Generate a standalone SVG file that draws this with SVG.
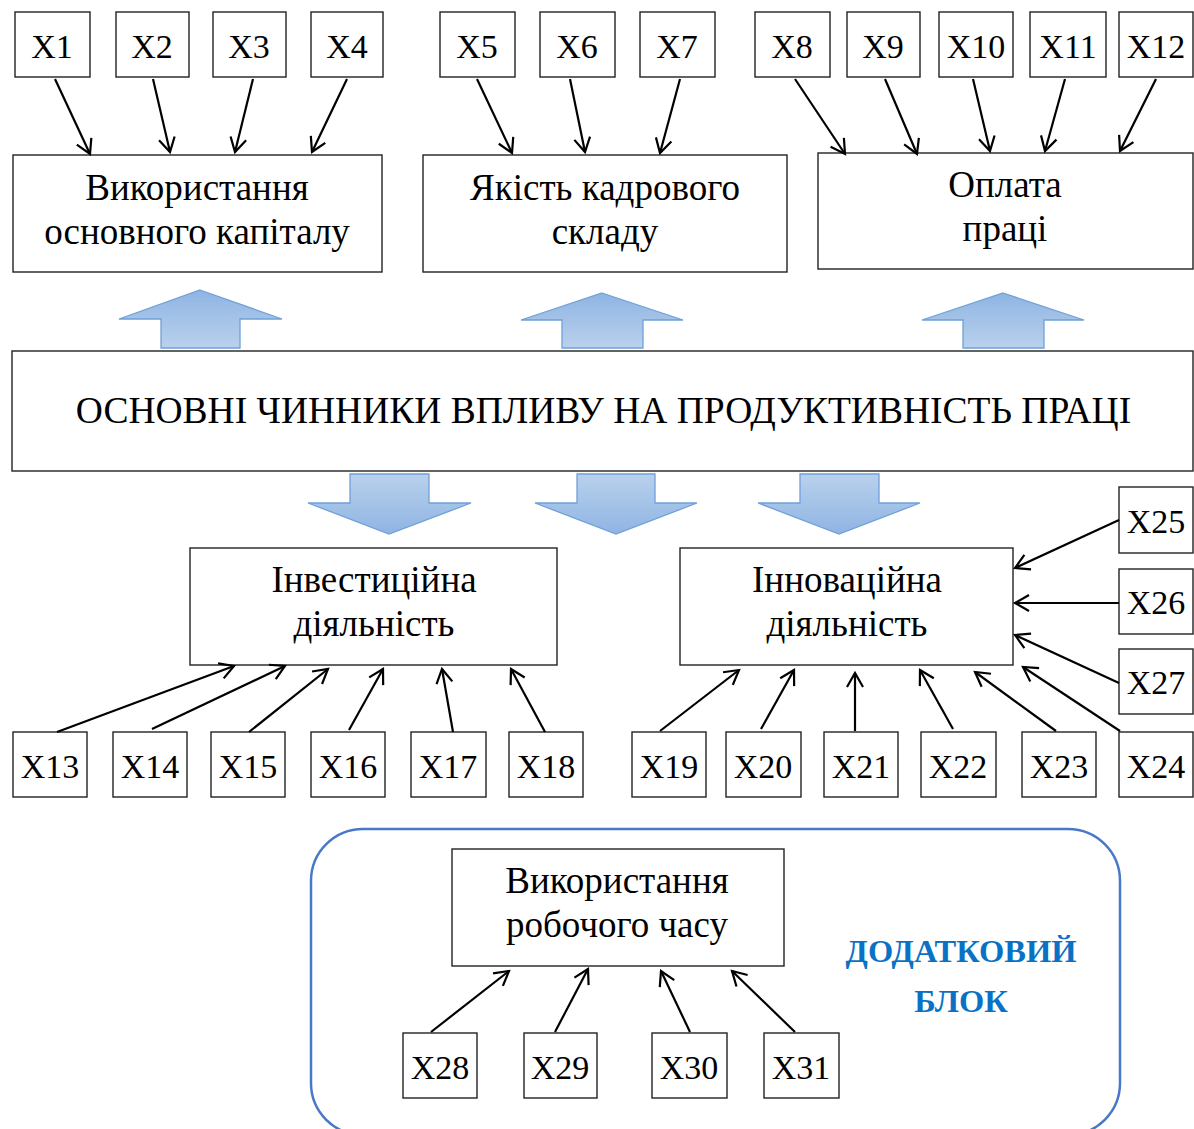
<svg xmlns="http://www.w3.org/2000/svg" width="1194" height="1129" viewBox="0 0 1194 1129" font-family="Liberation Serif, Times New Roman, serif">
<style>
.box{fill:#fff;stroke:#222;stroke-width:1.4}
.t{font-family:'Liberation Serif','Times New Roman',serif;font-size:37px;fill:#000;text-anchor:middle}
.x{font-family:'Liberation Serif','Times New Roman',serif;font-size:34px;fill:#000;text-anchor:middle}
.c{stroke:#000;stroke-width:2.2;fill:none;marker-end:url(#ah)}
.blk{fill:url(#gu);stroke:#6fa0d8;stroke-width:1.3}
.blkd{fill:url(#gd);stroke:#6fa0d8;stroke-width:1.3}
</style>
<defs>
<marker id="ah" markerUnits="userSpaceOnUse" markerWidth="20" markerHeight="20" viewBox="0 0 20 20" refX="17" refY="10" orient="auto">
<path d="M3,2 L17,10 L3,18" fill="none" stroke="#000" stroke-width="2.2"/>
</marker>
<linearGradient id="gu" x1="0" y1="0" x2="0" y2="1">
<stop offset="0" stop-color="#8fb4e3"/><stop offset="1" stop-color="#b9d1ec"/>
</linearGradient>
<linearGradient id="gd" x1="0" y1="0" x2="0" y2="1">
<stop offset="0" stop-color="#b9d1ec"/><stop offset="1" stop-color="#8fb4e3"/>
</linearGradient>
</defs>
<rect width="1194" height="1129" fill="#fff"/>

<g id="extra-block">
<rect x="311" y="829" width="809" height="306" rx="52" ry="52" fill="none" stroke="#4a78c8" stroke-width="2.5"/>
<text x="961" y="962" font-family="Liberation Serif, serif" font-weight="bold" font-size="32.5" fill="#0a72c4" text-anchor="middle">ДОДАТКОВИЙ</text>
<text x="961" y="1012" font-family="Liberation Serif, serif" font-weight="bold" font-size="32.5" fill="#0a72c4" text-anchor="middle">БЛОК</text>
</g>

<g id="block-arrows">
<polygon class="blk" points="200,290 282,319 240,319 240,348 161,348 161,319 119,319"/>
<polygon class="blk" points="602,293 683,320 643,320 643,348 562,348 562,320 521,320"/>
<polygon class="blk" points="1003,293 1084,320 1044,320 1044,348 963,348 963,320 922,320"/>
<polygon class="blkd" points="350,474 429,474 429,503 471,503 389,534 308,503 350,503"/>
<polygon class="blkd" points="577,474 655,474 655,503 697,503 616,534 535,503 577,503"/>
<polygon class="blkd" points="800,474 879,474 879,503 920,503 839,534 758,503 800,503"/>
</g>

<g id="main"><rect class="box" x="12" y="351" width="1181" height="120"/>
<text class="t" x="603.5" y="423" font-size="37.5" style="font-size:37.5px">ОСНОВНІ ЧИННИКИ ВПЛИВУ НА ПРОДУКТИВНІСТЬ ПРАЦІ</text></g>

<g id="capital"><rect class="box" x="13" y="155" width="369" height="117"/>
<text class="t" x="197" y="200">Використання</text><text class="t" x="197" y="244">основного капіталу</text></g>
<g id="staff"><rect class="box" x="423" y="155" width="364" height="117"/>
<text class="t" x="605" y="200">Якість кадрового</text><text class="t" x="605" y="244">складу</text></g>
<g id="pay"><rect class="box" x="818" y="153" width="375" height="116"/>
<text class="t" x="1005" y="197">Оплата</text><text class="t" x="1005" y="241">праці</text></g>
<g id="invest"><rect class="box" x="190" y="548" width="367" height="117"/>
<text class="t" x="374" y="592">Інвестиційна</text><text class="t" x="374" y="636">діяльність</text></g>
<g id="innov"><rect class="box" x="680" y="548" width="333" height="117"/>
<text class="t" x="847" y="592">Інноваційна</text><text class="t" x="847" y="636">діяльність</text></g>
<g id="worktime"><rect class="box" x="452" y="849" width="332" height="117"/>
<text class="t" x="617" y="893">Використання</text><text class="t" x="617" y="937">робочого часу</text></g>

<g id="x1"><rect class="box" x="15" y="12" width="75" height="65"/><text class="x" x="52" y="58">X1</text></g>
<g id="x2"><rect class="box" x="116" y="12" width="73" height="65"/><text class="x" x="152" y="58">X2</text></g>
<g id="x3"><rect class="box" x="213" y="12" width="73" height="65"/><text class="x" x="249" y="58">X3</text></g>
<g id="x4"><rect class="box" x="311" y="12" width="72" height="65"/><text class="x" x="347" y="58">X4</text></g>
<g id="x5"><rect class="box" x="440" y="12" width="75" height="65"/><text class="x" x="477" y="58">X5</text></g>
<g id="x6"><rect class="box" x="540" y="12" width="75" height="65"/><text class="x" x="577" y="58">X6</text></g>
<g id="x7"><rect class="box" x="640" y="12" width="75" height="65"/><text class="x" x="677" y="58">X7</text></g>
<g id="x8"><rect class="box" x="755" y="12" width="75" height="65"/><text class="x" x="792" y="58">X8</text></g>
<g id="x9"><rect class="box" x="847" y="12" width="73" height="65"/><text class="x" x="883" y="58">X9</text></g>
<g id="x10"><rect class="box" x="939" y="12" width="74" height="65"/><text class="x" x="976" y="58">X10</text></g>
<g id="x11"><rect class="box" x="1030" y="12" width="76" height="65"/><text class="x" x="1068" y="58">X11</text></g>
<g id="x12"><rect class="box" x="1119" y="12" width="74" height="65"/><text class="x" x="1156" y="58">X12</text></g>

<g id="x13"><rect class="box" x="13" y="732" width="74" height="65"/><text class="x" x="50" y="778">X13</text></g>
<g id="x14"><rect class="box" x="113" y="732" width="74" height="65"/><text class="x" x="150" y="778">X14</text></g>
<g id="x15"><rect class="box" x="211" y="732" width="74" height="65"/><text class="x" x="248" y="778">X15</text></g>
<g id="x16"><rect class="box" x="311" y="732" width="74" height="65"/><text class="x" x="348" y="778">X16</text></g>
<g id="x17"><rect class="box" x="411" y="732" width="75" height="65"/><text class="x" x="448" y="778">X17</text></g>
<g id="x18"><rect class="box" x="509" y="732" width="74" height="65"/><text class="x" x="546" y="778">X18</text></g>
<g id="x19"><rect class="box" x="632" y="732" width="74" height="65"/><text class="x" x="669" y="778">X19</text></g>
<g id="x20"><rect class="box" x="726" y="732" width="75" height="65"/><text class="x" x="763" y="778">X20</text></g>
<g id="x21"><rect class="box" x="824" y="732" width="74" height="65"/><text class="x" x="861" y="778">X21</text></g>
<g id="x22"><rect class="box" x="921" y="732" width="75" height="65"/><text class="x" x="958" y="778">X22</text></g>
<g id="x23"><rect class="box" x="1022" y="732" width="74" height="65"/><text class="x" x="1059" y="778">X23</text></g>
<g id="x24"><rect class="box" x="1119" y="732" width="74" height="65"/><text class="x" x="1156" y="778">X24</text></g>
<g id="x25"><rect class="box" x="1119" y="487" width="74" height="66"/><text class="x" x="1156" y="533">X25</text></g>
<g id="x26"><rect class="box" x="1119" y="569" width="74" height="65"/><text class="x" x="1156" y="614">X26</text></g>
<g id="x27"><rect class="box" x="1119" y="649" width="74" height="65"/><text class="x" x="1156" y="694">X27</text></g>
<g id="x28"><rect class="box" x="403" y="1033" width="74" height="65"/><text class="x" x="440" y="1079">X28</text></g>
<g id="x29"><rect class="box" x="524" y="1033" width="73" height="65"/><text class="x" x="560" y="1079">X29</text></g>
<g id="x30"><rect class="box" x="652" y="1033" width="75" height="65"/><text class="x" x="689" y="1079">X30</text></g>
<g id="x31"><rect class="box" x="764" y="1033" width="75" height="65"/><text class="x" x="801" y="1079">X31</text></g>

<g id="connectors">
<line class="c" x1="55" y1="79" x2="90" y2="154"/>
<line class="c" x1="153" y1="79" x2="170" y2="152"/>
<line class="c" x1="253" y1="79" x2="235" y2="152"/>
<line class="c" x1="347" y1="79" x2="312" y2="152"/>
<line class="c" x1="477" y1="79" x2="512" y2="153"/>
<line class="c" x1="570" y1="79" x2="585" y2="152"/>
<line class="c" x1="680" y1="79" x2="660" y2="153"/>
<line class="c" x1="795" y1="79" x2="845" y2="154"/>
<line class="c" x1="885" y1="79" x2="917" y2="154"/>
<line class="c" x1="973" y1="79" x2="990" y2="151"/>
<line class="c" x1="1065" y1="79" x2="1045" y2="151"/>
<line class="c" x1="1156" y1="79" x2="1120" y2="151"/>
<line class="c" x1="57" y1="732" x2="234" y2="666"/>
<line class="c" x1="152" y1="729" x2="285" y2="666"/>
<line class="c" x1="249" y1="732" x2="328" y2="669"/>
<line class="c" x1="349" y1="730" x2="383" y2="669"/>
<line class="c" x1="453" y1="732" x2="442" y2="669"/>
<line class="c" x1="545" y1="732" x2="511" y2="669"/>
<line class="c" x1="660" y1="731" x2="739" y2="670"/>
<line class="c" x1="761" y1="729" x2="794" y2="670"/>
<line class="c" x1="855" y1="731" x2="855" y2="673"/>
<line class="c" x1="953" y1="729" x2="920" y2="670"/>
<line class="c" x1="1056" y1="731" x2="975" y2="672"/>
<line class="c" x1="1120" y1="731" x2="1023" y2="667"/>
<line class="c" x1="1119" y1="520" x2="1015" y2="568"/>
<line class="c" x1="1119" y1="603" x2="1015" y2="603"/>
<line class="c" x1="1119" y1="683" x2="1015" y2="635"/>
<line class="c" x1="431" y1="1032" x2="509" y2="971"/>
<line class="c" x1="555" y1="1032" x2="588" y2="969"/>
<line class="c" x1="690" y1="1032" x2="661" y2="971"/>
<line class="c" x1="795" y1="1032" x2="732" y2="971"/>
</g>
</svg>
